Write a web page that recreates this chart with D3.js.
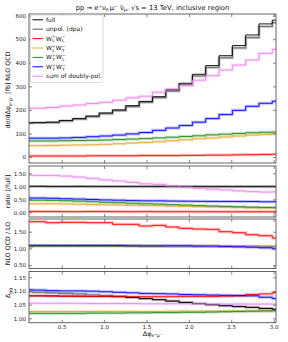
<!DOCTYPE html>
<html><head><meta charset="utf-8">
<script src="https://cdn.jsdelivr.net/npm/d3@7"></script>
<style>body{margin:0;background:#fff}svg{display:block;font-family:"DejaVu Sans",sans-serif}</style>
</head><body><svg id="c" width="288" height="342"></svg>
<script>
// ---- data ----
const binEdges = d3.range(21).map(k => k * Math.PI / 20);
const xTicks = [0.5, 1.0, 1.5, 2.0, 2.5, 3.0];

// main panel: dσ/dΔφ [fb], NLO QCD
const full   = [145,146,148,155,163,174,187,200,218,236,256,285,313,351,388,430,473,518,565,581];
const unpol  = [144,145,146,153,161,171,184,197,214,232,252,280,307,344,380,421,463,507,554,570];
const polLL  = [4,4,4,4,4,5,5,5,5,6,6,6,7,7,8,8,9,10,11,12];
const polLT  = [48,48,49,50,51,52,54,56,59,62,65,69,73,77,81,85,89,93,96,99];
const polTL  = [68,68,68,69,70,71,72,74,76,78,81,84,87,90,94,97,100,103,105,106];
const polTT  = [80,80,80,81,83,86,89,93,98,104,113,123,134,148,163,180,198,215,228,237];
const polSum = [207,207,210,216,221,227,232,241,251,258,275,289,304,326,345,369,390,412,440,457];

// NLO QCD / LO
const kLL  = [1.80,1.80,1.77,1.78,1.78,1.77,1.77,1.72,1.72,1.67,1.69,1.64,1.60,1.58,1.57,1.50,1.47,1.41,1.38,1.31];
const kLT  = [1.07,1.07,1.08,1.08,1.08,1.08,1.08,1.08,1.08,1.08,1.08,1.08,1.08,1.08,1.08,1.08,1.07,1.07,1.07,1.07];
const kTL  = [1.05,1.07,1.07,1.07,1.07,1.07,1.07,1.07,1.07,1.06,1.06,1.06,1.06,1.06,1.06,1.06,1.06,1.05,1.05,1.05];
const kTT  = [1.09,1.09,1.09,1.09,1.09,1.09,1.09,1.09,1.08,1.08,1.08,1.08,1.08,1.07,1.07,1.06,1.05,1.04,1.02,0.99];
const kSum = [1.09,1.09,1.09,1.09,1.09,1.09,1.09,1.09,1.09,1.08,1.08,1.07,1.07,1.07,1.06,1.06,1.05,1.05,1.04,1.04];

// Δ_gg
const dFull  = [1.082,1.082,1.082,1.081,1.081,1.080,1.080,1.080,1.076,1.072,1.068,1.063,1.058,1.054,1.050,1.046,1.043,1.040,1.036,1.033];
const dUnpol = [1.097,1.095,1.093,1.091,1.089,1.086,1.083,1.080,1.076,1.072,1.068,1.063,1.058,1.054,1.050,1.046,1.043,1.040,1.036,1.033];
const dLL    = [1.082,1.082,1.081,1.081,1.080,1.080,1.080,1.079,1.079,1.079,1.079,1.079,1.080,1.080,1.080,1.081,1.082,1.087,1.089,1.094];
const dLT    = [1.025,1.025,1.025,1.025,1.025,1.025,1.025,1.025,1.025,1.025,1.025,1.026,1.026,1.026,1.026,1.026,1.027,1.027,1.027,1.027];
const dTL    = [1.018,1.018,1.018,1.018,1.018,1.019,1.019,1.019,1.020,1.020,1.021,1.021,1.022,1.022,1.023,1.024,1.025,1.026,1.027,1.028];
const dTT    = [1.104,1.103,1.101,1.100,1.100,1.099,1.097,1.095,1.093,1.091,1.090,1.089,1.087,1.086,1.085,1.084,1.083,1.082,1.077,1.072];
const dSum   = [1.055,1.055,1.055,1.055,1.055,1.054,1.054,1.054,1.054,1.053,1.053,1.053,1.053,1.053,1.052,1.052,1.052,1.052,1.052,1.052];

const mainTicks  = [0,100,200,300,400,500,600];
const ratioTicks = [0,0.5,1.0,1.5];
const kTicks     = [0.5,1.0,1.5];
const dTicks     = [1.00,1.05,1.10,1.15];

// ---- styles ----
const C = {full:'#000000', unpol:'#7a7a7a', LL:'#ff0000', LT:'#e6a526', TL:'#1e8c1e', TT:'#0000ff', sum:'#ee82ee'};

const ratio = a => a.map((v,i) => v / full[i]);

const panels = [
  {top:14, bottom:163, domain:[-25.5,607], ticks:mainTicks, fmt:d3.format('d'), legend:true,
   series:[['unpol',unpol],['full',full],['LL',polLL],['LT',polLT],['TL',polTL],['TT',polTT],['sum',polSum]]},
  {top:166, bottom:217, domain:[-0.18,1.78], ticks:ratioTicks, fmt:d3.format('.2f'),
   series:[['unpol',ratio(unpol)],['full',ratio(full)],['LL',ratio(polLL)],['LT',ratio(polLT)],['TL',ratio(polTL)],['TT',ratio(polTT)],['sum',ratio(polSum)]]},
  {top:219, bottom:268.5, domain:[0.40,1.88], ticks:kTicks, fmt:d3.format('.2f'),
   series:[['LL',kLL],['LT',kLT],['TL',kTL],['sum',kSum],['TT',kTT]]},
  {top:271.5, bottom:322.7, domain:[0.984,1.171], ticks:dTicks, fmt:d3.format('.2f'), xlabels:true,
   series:[['unpol',dUnpol],['full',dFull],['LL',dLL],['LT',dLT],['TL',dTL],['TT',dTT],['sum',dSum]]}
];

const svg = d3.select('#c');
const X0 = 29, X1 = 276;
const x = d3.scaleLinear().domain([0.1137, 3.028]).range([X0, X1]);

panels.forEach((p, pi) => {
  const y = d3.scaleLinear().domain(p.domain).range([p.bottom, p.top]);
  const id = 'clip' + pi;
  svg.append('clipPath').attr('id', id).append('rect')
    .attr('x', X0).attr('y', p.top).attr('width', X1 - X0).attr('height', p.bottom - p.top);
  const g = svg.append('g').attr('clip-path', `url(#${id})`);
  const line = d3.line().x(d => x(d[0])).y(d => y(d[1])).curve(d3.curveStepAfter);
  const pts = vals => { const a = vals.map((v,i) => [binEdges[i], v]); a.push([binEdges[20], vals[vals.length-1]]); return a; };
  // light bands
  p.series.forEach(([k, vals]) => {
    if (k === 'full') return;
    g.append('path').attr('d', line(pts(vals))).attr('fill','none')
      .attr('stroke', C[k]).attr('stroke-width', 3).attr('stroke-opacity', k==='unpol'?0.4:0.25);
  });
  p.series.forEach(([k, vals]) => {
    g.append('path').attr('d', line(pts(vals))).attr('fill','none')
      .attr('stroke', C[k]).attr('stroke-width', k==='unpol'?1.2:0.9);
  });
  // axes
  const fr = '#555';
  const yl = svg.append('g').attr('transform', `translate(${X0},0)`)
    .call(d3.axisLeft(y).tickValues(p.ticks).tickFormat(p.fmt).tickSizeInner(-3).tickSizeOuter(0).tickPadding(3));
  const yr = svg.append('g').attr('transform', `translate(${X1},0)`)
    .call(d3.axisRight(y).tickValues(p.ticks).tickFormat('').tickSizeInner(-3).tickSizeOuter(0));
  const xb = svg.append('g').attr('transform', `translate(0,${p.bottom})`)
    .call(d3.axisBottom(x).tickValues(xTicks).tickFormat(p.xlabels ? d3.format('.1f') : '').tickSizeInner(-3).tickSizeOuter(0).tickPadding(2.5));
  const xt = svg.append('g').attr('transform', `translate(0,${p.top})`)
    .call(d3.axisTop(x).tickValues(xTicks).tickFormat('').tickSizeInner(-3).tickSizeOuter(0));
  [yl, yr, xb, xt].forEach(a => {
    a.select('.domain').remove();
    a.selectAll('line').attr('stroke', fr).attr('stroke-width', 0.7);
    a.selectAll('text').attr('font-size', 5.5).attr('font-family','"DejaVu Sans",sans-serif').attr('fill','#222');
  });
  svg.append('rect').attr('x', X0).attr('y', p.top).attr('width', X1 - X0).attr('height', p.bottom - p.top)
    .attr('fill','none').attr('stroke', fr).attr('stroke-width', 0.9);

  if (p.legend) {
    const lg = svg.append('g');
    lg.append('rect').attr('x', 30.5).attr('y', 15).attr('width', 72.5).attr('height', 67.5).attr('rx', 1.5)
      .attr('fill','#fff').attr('fill-opacity',0.85).attr('stroke','#cfcfcf').attr('stroke-width',0.7);
    const items = [
      ['full',[['full']]],
      ['unpol',[['unpol. (dpa)']]],
      ['LL',[['W'],['+','sup'],['L','sub',3.9,-3.3],['W',null,-1.7,1.2],['−','sup',-2.2],['L','sub',3.9,-3.3]]],
      ['LT',[['W'],['+','sup'],['L','sub',3.9,-3.3],['W',null,-1.7,1.2],['−','sup',-2.2],['T','sub',3.9,-3.3]]],
      ['TL',[['W'],['+','sup'],['T','sub',3.9,-3.3],['W',null,-1.7,1.2],['−','sup',-2.2],['L','sub',3.9,-3.3]]],
      ['TT',[['W'],['+','sup'],['T','sub',3.9,-3.3],['W',null,-1.7,1.2],['−','sup',-2.2],['T','sub',3.9,-3.3]]],
      ['sum',[['sum of doubly-pol.']]]
    ];
    items.forEach(([k, parts], i) => {
      const yy = 19.8 + i * 9.4;
      lg.append('line').attr('x1', 32.5).attr('x2', 43).attr('y1', yy).attr('y2', yy)
        .attr('stroke', C[k]).attr('stroke-width', k==='unpol'?1.3:1);
      const t = lg.append('text').attr('x', 46).attr('y', yy + 2).attr('font-size', 6).attr('fill','#111');
      parts.forEach(pp => {
        const ts = t.append('tspan').text(pp[0]);
        if (pp[1] === 'sup') ts.attr('font-size', 4.3).attr('dy', pp[2] !== undefined ? pp[2] : -2.2);
        else if (pp[1] === 'sub') ts.attr('font-size', 4.3).attr('dy', pp[2]).attr('dx', pp[3]);
        else if (pp[2] !== undefined) ts.attr('dy', pp[2]).attr('dx', pp[3]);
      });
    });
  }
});

// title
const title = svg.append('text').attr('x', 152.5).attr('y', 9.5).attr('text-anchor','middle').attr('font-size', 6.8).attr('fill','#111');
title.append('tspan').text('pp → e⁺ν');
title.append('tspan').text('e').attr('font-size', 4.8).attr('dy', 1.5);
title.append('tspan').text('μ⁻ ν̄').attr('dy', -1.5).attr('dx', 1);
title.append('tspan').text('μ').attr('font-size', 4.8).attr('dy', 1.5);
title.append('tspan').text(', √s = 13 TeV, inclusive region').attr('dy', -1.5);

// y labels
function ylabel(cy, build) {
  const t = svg.append('text').attr('transform', `translate(10,${cy}) rotate(-90)`)
    .attr('text-anchor','middle').attr('font-size', 6.3).attr('fill','#111');
  build(t);
}
ylabel(90, t => {
  t.append('tspan').text('dσ/dΔφ');
  t.append('tspan').text('e⁺μ⁻').attr('font-size', 4.4).attr('dy', 1.6);
  t.append('tspan').text(' [fb] NLO QCD').attr('dy', -1.6);
});
ylabel(191.5, t => t.append('tspan').text('ratio [/full]'));
ylabel(243.5, t => t.append('tspan').text('NLO QCD / LO'));
ylabel(293, t => {
  t.append('tspan').text('Δ');
  t.append('tspan').text('gg').attr('font-size', 4.4).attr('dy', 1.6);
});

// x label
const xl = svg.append('text').attr('x', 152.5).attr('y', 335.5).attr('text-anchor','middle').attr('font-size', 6.5).attr('fill','#111');
xl.append('tspan').text('Δφ');
xl.append('tspan').text('e⁺μ⁻').attr('font-size', 4.6).attr('dy', 1.6);
</script>
</body></html>
